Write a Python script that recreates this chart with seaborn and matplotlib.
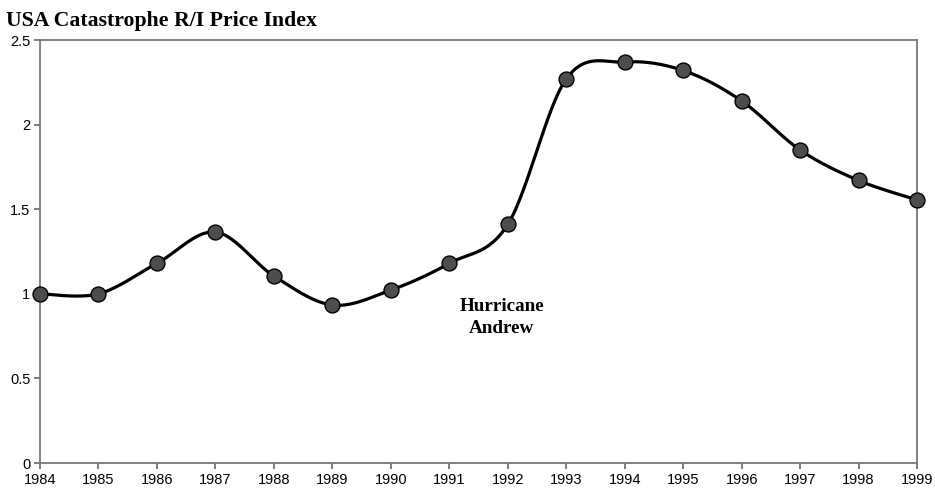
import numpy as np
import pandas as pd
import matplotlib
matplotlib.use("Agg")
import matplotlib.pyplot as plt
import seaborn as sns

# Datos del indice
years = [1984, 1985, 1986, 1987, 1988, 1989, 1990, 1991,
         1992, 1993, 1994, 1995, 1996, 1997, 1998, 1999]
index_values = [1.0, 1.0, 1.18, 1.365, 1.105, 0.934, 1.022, 1.18,
                1.41, 2.27, 2.37, 2.32, 2.14, 1.85, 1.67, 1.555]
y_ticks = [0, 0.5, 1, 1.5, 2, 2.5]
y_tick_labels = ["0", "0.5", "1", "1.5", "2", "2.5"]


def suavizar(x, y, n=30):
    # curva suavizada estilo Excel (Catmull-Rom) a partir de los puntos
    x = np.asarray(x, float)
    y = np.asarray(y, float)
    px = np.concatenate([[x[0]], x, [x[-1]]])
    py = np.concatenate([[y[0]], y, [y[-1]]])
    xs, ys = [], []
    t = np.linspace(0, 1, n)
    for i in range(1, len(px) - 2):
        p0, p1, p2, p3 = (np.array([px[j], py[j]]) for j in range(i - 1, i + 3))
        c1 = p1 + (p2 - p0) / 6
        c2 = p2 - (p3 - p1) / 6
        for tt in t:
            b = ((1 - tt) ** 3) * p1 + 3 * ((1 - tt) ** 2) * tt * c1 \
                + 3 * (1 - tt) * tt ** 2 * c2 + tt ** 3 * p2
            xs.append(b[0])
            ys.append(b[1])
    return np.array(xs), np.array(ys)


sns.set_style("white")
plt.rcParams["font.family"] = ["Liberation Sans", "DejaVu Sans"]
plt.rcParams["text.color"] = "black"
plt.rcParams["xtick.color"] = "black"
plt.rcParams["ytick.color"] = "black"

df = pd.DataFrame({"year": years, "index": index_values})
sx, sy = suavizar(years, index_values)
curva = pd.DataFrame({"x": sx, "y": sy})

fig = plt.figure(figsize=(9.35, 4.91), dpi=100)
ax = fig.add_axes([0.0428, 0.057, 0.938, 0.8615])

sns.lineplot(data=curva, x="x", y="y", sort=False, color="black",
             linewidth=2.3, ax=ax, clip_on=False)
sns.scatterplot(data=df, x="year", y="index", s=115, color="#4d4d4d",
                edgecolor="black", linewidth=1.0, ax=ax, zorder=3, clip_on=False)

ax.set_xlim(1984, 1999)
ax.set_ylim(0, 2.5)
ax.set_xticks(years)
ax.set_xticklabels([str(y) for y in years], fontsize=10.5)
ax.set_yticks(y_ticks)
ax.set_yticklabels(y_tick_labels, fontsize=10.5)
ax.set_xlabel("")
ax.set_ylabel("")
ax.tick_params(axis="both", direction="out", length=4, width=1.2,
               color="#666666", labelcolor="black", pad=3,
               bottom=True, left=True)
for sp in ax.spines.values():
    sp.set_color("#777777")
    sp.set_linewidth(1.3)
    sp.set_visible(True)

ax.text(1991.9, 0.86, "Hurricane\nAndrew", ha="center", va="center",
        fontsize=13.8, fontweight="bold", family="Liberation Serif",
        linespacing=1.35, color="black")

fig.text(0.006, 0.978, "USA Catastrophe R/I Price Index", ha="left", va="top",
         fontsize=15.7, fontweight="bold", family="Liberation Serif",
         color="black")

fig.savefig("out.png", dpi=100)
